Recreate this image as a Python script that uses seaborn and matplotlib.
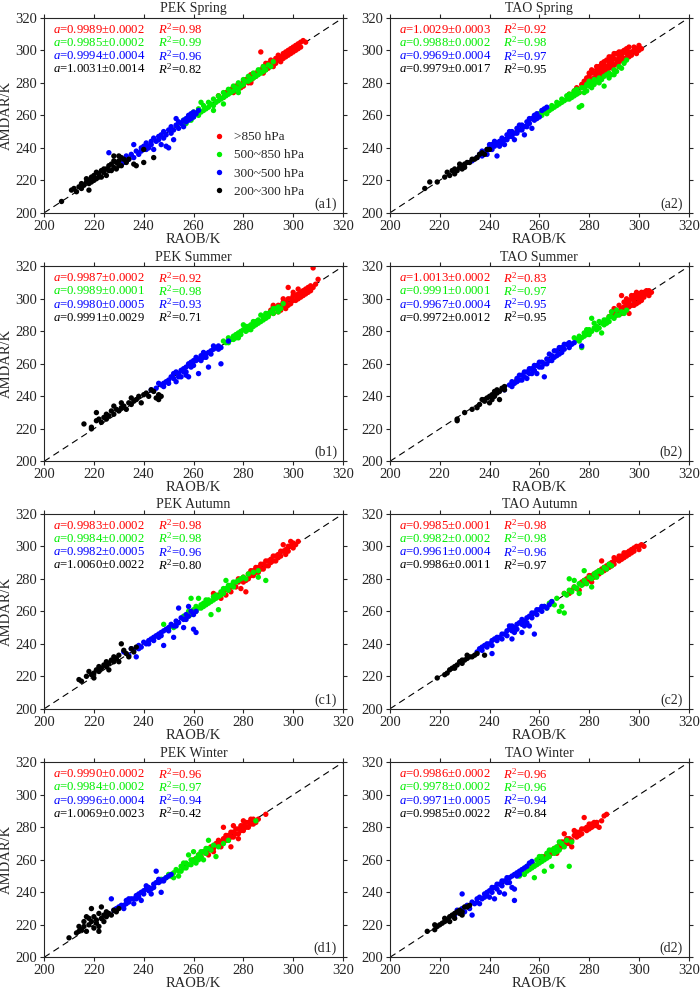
import numpy as np
import pandas as pd
import seaborn as sns
import matplotlib.pyplot as plt

levels = ['>850 hPa', '500~850 hPa', '300~500 hPa', '200~300 hPa']
level_colors = ['#ff0000', '#00ee00', '#0000ff', '#000000']

panel_titles = ['PEK Spring', 'TAO Spring', 'PEK Summer', 'TAO Summer',
                'PEK Autumn', 'TAO Autumn', 'PEK Winter', 'TAO Winter']
panel_tags = ['(a1)', '(a2)', '(b1)', '(b2)', '(c1)', '(c2)', '(d1)', '(d2)']

# fitted slope a and R^2 per level (red, green, blue, black)
a1_slope = ['0.9989±0.0002', '0.9985±0.0002', '0.9994±0.0004', '1.0031±0.0014']
a1_r2 = ['0.98', '0.99', '0.96', '0.82']
a2_slope = ['1.0029±0.0003', '0.9988±0.0002', '0.9969±0.0004', '0.9979±0.0017']
a2_r2 = ['0.92', '0.98', '0.97', '0.95']
b1_slope = ['0.9987±0.0002', '0.9989±0.0001', '0.9980±0.0005', '0.9991±0.0029']
b1_r2 = ['0.92', '0.98', '0.93', '0.71']
b2_slope = ['1.0013±0.0002', '0.9991±0.0001', '0.9967±0.0004', '0.9972±0.0012']
b2_r2 = ['0.83', '0.97', '0.95', '0.95']
c1_slope = ['0.9983±0.0002', '0.9984±0.0002', '0.9982±0.0005', '1.0060±0.0022']
c1_r2 = ['0.98', '0.98', '0.96', '0.80']
c2_slope = ['0.9985±0.0001', '0.9982±0.0002', '0.9961±0.0004', '0.9986±0.0011']
c2_r2 = ['0.98', '0.98', '0.96', '0.97']
d1_slope = ['0.9990±0.0002', '0.9984±0.0002', '0.9996±0.0004', '1.0069±0.0023']
d1_r2 = ['0.96', '0.97', '0.94', '0.42']
d2_slope = ['0.9986±0.0002', '0.9978±0.0002', '0.9971±0.0005', '0.9985±0.0022']
d2_r2 = ['0.96', '0.96', '0.94', '0.84']

# (RAOB, AMDAR) points, per pressure level
# ---- PEK Spring (a1)
a1_red = [(270, 272), (272, 271), (273, 274), (275, 276), (276, 274), (277, 278), (278, 279), (279, 277), (280, 281),
          (280, 278), (281, 282), (282, 280), (283, 285), (283, 281), (284, 283), (285, 286), (285, 284), (286, 287),
          (287, 299), (287, 288), (288, 286), (288, 290), (289, 288), (290, 292), (290, 289), (291, 291), (291, 294),
          (292, 290), (292, 293), (293, 295), (293, 292), (294, 294), (294, 297), (295, 296), (295, 293), (296, 298),
          (296, 295), (297, 299), (297, 296), (298, 300), (298, 297), (299, 298), (299, 301), (300, 302), (300, 299),
          (301, 300), (301, 303), (302, 304), (302, 301), (303, 305), (303, 302), (304, 306), (305, 305), (283, 280),
          (289, 292)]
a1_green = [(255, 255), (256, 257), (257, 255), (258, 259), (259, 257), (260, 262), (260, 259), (261, 261), (262, 264),
            (262, 260), (263, 262), (264, 266), (264, 263), (265, 264), (266, 268), (266, 265), (267, 267), (268, 270),
            (268, 266), (269, 268), (270, 272), (270, 269), (271, 270), (272, 274), (272, 271), (273, 272), (274, 276),
            (274, 273), (275, 274), (276, 278), (276, 275), (277, 277), (278, 280), (278, 276), (279, 278), (280, 282),
            (280, 279), (281, 281), (282, 284), (282, 281), (283, 282), (284, 286), (284, 283), (285, 284), (286, 288),
            (286, 285), (287, 286), (288, 290), (288, 287), (289, 288), (290, 291), (291, 290), (292, 293), (268, 263),
            (272, 267), (278, 274), (263, 268)]
a1_blue = [(231, 233), (232, 231), (233, 235), (234, 233), (235, 236), (236, 242), (236, 234), (237, 238), (238, 236),
           (239, 240), (239, 238), (240, 241), (241, 239), (241, 243), (242, 241), (243, 244), (243, 242), (244, 246),
           (244, 239), (245, 244), (246, 247), (246, 245), (247, 248), (247, 242), (248, 246), (248, 250), (249, 248),
           (249, 241), (250, 251), (250, 240), (251, 249), (251, 253), (252, 251), (252, 245), (253, 254), (253, 258),
           (254, 252), (254, 256), (255, 255), (256, 257), (256, 253), (257, 258), (257, 256), (258, 260), (258, 257),
           (259, 261), (259, 258), (260, 262), (260, 259), (261, 261), (262, 263), (226, 237), (242, 240)]
a1_black = [(207, 207), (211, 214), (212, 215), (213, 213), (214, 216), (215, 218), (215, 215), (216, 217), (217, 219),
            (217, 221), (218, 220), (218, 218), (219, 222), (219, 219), (220, 223), (220, 220), (221, 221), (221, 225),
            (222, 224), (222, 222), (223, 222), (223, 226), (224, 225), (224, 227), (225, 227), (225, 223), (226, 229),
            (226, 226), (227, 226), (227, 230), (228, 228), (228, 232), (229, 231), (229, 227), (230, 232), (230, 229),
            (231, 234), (231, 229), (232, 233), (233, 231), (234, 233), (236, 230), (237, 229), (240, 239), (244, 234),
            (240, 231), (228, 235), (230, 235), (218, 214)]

# ---- TAO Spring (a2)
a2_red = [(272, 273), (274, 275), (275, 277), (276, 274), (277, 279), (278, 281), (278, 277), (279, 283), (279, 279),
          (280, 284), (280, 281), (281, 282), (281, 286), (282, 286), (282, 283), (283, 285), (283, 288), (284, 287),
          (284, 284), (285, 289), (285, 286), (286, 288), (286, 291), (287, 290), (287, 287), (288, 292), (288, 289),
          (289, 293), (289, 290), (290, 291), (290, 295), (291, 294), (291, 292), (292, 296), (292, 293), (293, 297),
          (293, 294), (294, 295), (294, 299), (295, 298), (295, 295), (296, 296), (296, 299), (297, 299), (297, 297),
          (298, 300), (299, 301), (299, 298), (300, 303), (300, 300), (301, 301), (285, 284), (282, 280), (291, 298),
          (294, 300), (288, 296), (281, 288), (283, 290), (285, 292), (287, 294), (289, 296), (290, 298), (292, 299),
          (284, 290), (286, 293), (288, 294), (280, 286), (293, 299), (295, 301), (296, 302), (298, 302), (286, 285),
          (290, 288), (292, 290), (294, 293)]
a2_green = [(260, 261), (261, 260), (262, 262), (263, 264), (263, 261), (264, 263), (265, 266), (265, 264), (266, 265),
            (267, 268), (267, 266), (268, 267), (269, 270), (269, 268), (270, 269), (271, 272), (271, 270), (272, 270),
            (272, 273), (273, 273), (273, 271), (274, 272), (274, 275), (275, 276), (275, 273), (276, 274), (276, 265),
            (277, 266), (277, 277), (278, 277), (278, 274), (279, 275), (279, 279), (280, 278), (280, 281), (281, 280),
            (281, 277), (282, 279), (282, 282), (283, 281), (284, 283), (284, 280), (285, 282), (286, 284), (286, 278),
            (287, 285), (288, 286), (288, 283), (289, 285), (290, 288), (290, 285), (291, 287), (292, 290), (293, 289),
            (294, 292), (295, 294)]
a2_blue = [(233, 232), (235, 234), (236, 236), (237, 238), (237, 235), (238, 237), (239, 239), (239, 236), (240, 240),
           (240, 242), (241, 242), (241, 239), (242, 241), (242, 244), (243, 243), (243, 235), (244, 244), (244, 241),
           (245, 246), (245, 243), (246, 245), (246, 242), (247, 248), (247, 245), (248, 247), (248, 250), (249, 250),
           (249, 247), (250, 249), (250, 245), (251, 252), (251, 249), (252, 251), (252, 254), (253, 254), (253, 251),
           (254, 253), (254, 248), (255, 256), (255, 253), (256, 255), (256, 258), (257, 258), (257, 252), (258, 257),
           (258, 260), (259, 261), (259, 258), (260, 259), (261, 263), (262, 264), (263, 265)]
a2_black = [(214, 215), (216, 219), (219, 219), (222, 222), (223, 225), (224, 223), (225, 226), (226, 227), (226, 224),
            (227, 226), (228, 228), (229, 229), (229, 227), (230, 230), (231, 231), (232, 231), (233, 233), (234, 233),
            (235, 234), (236, 236), (237, 237), (238, 236), (239, 239), (240, 239), (228, 230), (230, 228)]

# ---- PEK Summer (b1)
b1_red = [(290, 290), (291, 293), (292, 291), (292, 295), (293, 294), (294, 292), (294, 296), (295, 296), (295, 293),
          (296, 295), (296, 298), (297, 298), (297, 295), (298, 296), (298, 307), (298, 300), (299, 300), (299, 297),
          (300, 299), (300, 302), (301, 302), (301, 299), (302, 303), (302, 300), (303, 304), (303, 301), (304, 305),
          (304, 302), (305, 306), (305, 303), (306, 307), (306, 304), (307, 308), (307, 305), (308, 307), (308, 319),
          (309, 309), (310, 312), (300, 304), (302, 306), (297, 294), (292, 296), (296, 300)]
b1_green = [(272, 274), (273, 273), (274, 276), (274, 273), (275, 275), (276, 277), (276, 275), (277, 278), (277, 276),
            (278, 279), (278, 276), (279, 280), (279, 278), (280, 281), (280, 284), (281, 280), (281, 283), (282, 283),
            (282, 281), (283, 284), (283, 281), (284, 283), (284, 286), (285, 286), (285, 284), (286, 287), (286, 285),
            (287, 286), (287, 290), (288, 289), (288, 287), (289, 288), (289, 291), (290, 291), (290, 289), (291, 292),
            (292, 291), (292, 294), (293, 294), (294, 295), (294, 292), (295, 294), (296, 297)]
b1_blue = [(243, 244), (245, 245), (246, 248), (247, 247), (248, 248), (248, 246), (249, 249), (250, 250), (250, 248),
           (251, 252), (252, 251), (252, 254), (253, 255), (253, 249), (254, 254), (254, 252), (255, 256), (255, 252),
           (256, 257), (256, 255), (257, 258), (257, 255), (257, 253), (258, 260), (258, 252), (259, 261), (259, 258),
           (260, 262), (260, 259), (261, 262), (261, 264), (262, 263), (262, 254), (263, 265), (263, 262), (264, 264),
           (264, 267), (265, 266), (265, 264), (266, 267), (266, 258), (267, 268), (267, 266), (268, 269), (268, 271),
           (269, 270), (270, 271), (270, 269), (271, 270), (271, 260), (274, 274)]
b1_black = [(216, 223), (219, 220), (219, 221), (221, 225), (221, 230), (222, 226), (223, 224), (224, 227), (225, 226),
            (225, 229), (226, 228), (227, 231), (228, 229), (228, 234), (229, 232), (230, 231), (231, 233), (231, 236),
            (232, 234), (233, 232), (234, 236), (235, 235), (235, 239), (236, 237), (237, 238), (238, 240), (239, 236),
            (240, 241), (241, 242), (242, 240), (243, 244), (245, 239), (246, 241), (246, 238), (247, 240), (244, 243)]

# ---- TAO Summer (b2)
b2_red = [(288, 289), (289, 292), (290, 291), (290, 294), (291, 293), (291, 290), (292, 292), (292, 296), (293, 294),
          (293, 291), (293, 302), (294, 295), (294, 298), (295, 297), (295, 293), (296, 298), (296, 295), (296, 291),
          (297, 296), (297, 300), (298, 299), (298, 302), (298, 296), (299, 301), (299, 297), (300, 300), (300, 303),
          (301, 302), (301, 299), (301, 304), (302, 304), (302, 301), (303, 303), (303, 305), (304, 305), (304, 302),
          (305, 304), (297, 302), (299, 304), (295, 300), (300, 298)]
b2_green = [(274, 276), (275, 275), (276, 277), (276, 274), (277, 276), (277, 270), (278, 279), (278, 277), (279, 278),
            (279, 281), (280, 281), (280, 278), (281, 280), (281, 288), (282, 282), (282, 285), (283, 283), (283, 281),
            (284, 282), (284, 286), (285, 285), (285, 279), (286, 284), (286, 287), (287, 287), (287, 285), (288, 286),
            (288, 289), (289, 289), (289, 292), (290, 288), (291, 290), (291, 293), (292, 290), (293, 292), (294, 291),
            (295, 293)]
b2_blue = [(246, 244), (248, 247), (249, 249), (249, 246), (250, 248), (251, 251), (251, 249), (252, 250), (252, 253),
           (253, 253), (253, 250), (254, 252), (254, 255), (255, 255), (255, 251), (256, 254), (256, 257), (257, 257),
           (257, 254), (258, 256), (258, 259), (259, 259), (259, 254), (260, 258), (260, 261), (261, 261), (261, 258),
           (262, 260), (262, 252), (263, 263), (263, 260), (264, 262), (264, 266), (265, 265), (265, 262), (266, 264),
           (266, 268), (267, 268), (267, 265), (268, 266), (268, 270), (269, 270), (269, 267), (270, 269), (270, 272),
           (271, 272), (272, 270), (272, 273), (273, 272), (274, 273), (277, 271)]
b2_black = [(227, 225), (227, 226), (230, 230), (233, 232), (235, 233), (236, 235), (237, 238), (238, 237), (239, 239),
            (240, 240), (241, 241), (241, 238), (242, 240), (243, 242), (243, 244), (244, 243), (245, 245), (246, 246),
            (246, 244), (240, 236), (244, 238), (238, 238), (242, 243)]

# ---- PEK Autumn (c1)
c1_red = [(268, 271), (270, 270), (271, 268), (272, 272), (273, 270), (274, 273), (275, 275), (275, 272), (276, 277),
          (277, 275), (278, 278), (278, 280), (279, 274), (279, 279), (280, 281), (280, 278), (281, 279), (281, 272),
          (282, 283), (282, 280), (283, 282), (283, 285), (284, 285), (284, 282), (285, 284), (285, 287), (286, 287),
          (286, 284), (287, 286), (287, 289), (288, 289), (288, 286), (289, 288), (289, 291), (290, 291), (290, 288),
          (291, 292), (291, 290), (292, 291), (292, 294), (293, 294), (293, 291), (294, 295), (294, 293), (295, 294),
          (295, 297), (296, 297), (296, 301), (297, 298), (297, 295), (298, 297), (298, 300), (299, 300), (299, 303),
          (300, 299), (300, 302), (301, 301), (302, 303)]
c1_green = [(248, 252), (252, 250), (256, 257), (258, 260), (258, 257), (259, 258), (259, 268), (260, 261), (260, 259),
            (261, 263), (261, 260), (262, 262), (262, 268), (263, 264), (263, 262), (264, 265), (264, 263), (265, 264),
            (265, 267), (266, 267), (266, 265), (267, 266), (267, 258), (268, 269), (268, 267), (269, 270), (269, 268),
            (270, 269), (270, 261), (271, 272), (271, 270), (272, 271), (272, 274), (273, 274), (273, 279), (274, 273),
            (274, 276), (275, 276), (276, 275), (276, 278), (277, 278), (278, 279), (279, 280), (280, 281), (281, 280),
            (282, 283), (284, 284), (286, 285), (286, 281), (289, 279)]
c1_blue = [(232, 235), (234, 233), (235, 237), (236, 236), (237, 232), (238, 239), (239, 238), (240, 241), (241, 240),
           (242, 242), (243, 243), (244, 244), (245, 245), (246, 246), (247, 247), (248, 239), (248, 248), (249, 249),
           (250, 250), (251, 252), (252, 251), (253, 254), (254, 262), (254, 253), (255, 256), (256, 255), (257, 258),
           (258, 257), (259, 260), (260, 258), (261, 260), (261, 247), (260, 249), (256, 250), (252, 244), (258, 263),
           (244, 242), (246, 244), (250, 248), (238, 237), (242, 240), (247, 245), (253, 251), (257, 255)]
c1_black = [(214, 218), (215, 217), (217, 220), (218, 223), (219, 221), (220, 222), (221, 224), (222, 223), (222, 226),
            (223, 225), (224, 227), (225, 226), (225, 229), (226, 228), (227, 230), (228, 229), (228, 232), (229, 231),
            (230, 233), (230, 229), (231, 240), (232, 236), (233, 234), (234, 232), (235, 237), (236, 235), (237, 238),
            (226, 224), (220, 219)]

# ---- TAO Autumn (c2)
c2_red = [(270, 271), (272, 271), (273, 273), (274, 275), (275, 274), (276, 273), (277, 278), (278, 277), (278, 279),
          (279, 280), (280, 279), (280, 282), (281, 282), (281, 278), (282, 281), (282, 283), (283, 284), (284, 283),
          (284, 285), (285, 286), (285, 291), (286, 285), (286, 287), (287, 288), (287, 286), (288, 287), (288, 289),
          (289, 290), (289, 288), (290, 289), (290, 293), (290, 291), (291, 292), (292, 291), (292, 294), (293, 294),
          (293, 292), (294, 293), (294, 296), (295, 296), (295, 294), (296, 295), (296, 297), (297, 298), (297, 296),
          (298, 297), (298, 299), (299, 300), (300, 300), (300, 298), (301, 301), (302, 300)]
c2_green = [(262, 263), (263, 262), (264, 265), (265, 266), (266, 264), (267, 268), (268, 260), (269, 263), (270, 259),
            (270, 271), (271, 270), (272, 273), (272, 280), (273, 272), (274, 275), (275, 274), (276, 277), (277, 276),
            (278, 285), (278, 279), (279, 277), (280, 281), (281, 280), (282, 283), (283, 281), (284, 285), (285, 284),
            (286, 287), (287, 286), (288, 289), (289, 288), (276, 271), (281, 275), (274, 279), (283, 284)]
c2_blue = [(235, 235), (236, 237), (237, 236), (238, 239), (239, 238), (240, 240), (241, 239), (242, 243), (243, 242),
           (244, 244), (245, 243), (246, 246), (247, 245), (248, 249), (249, 248), (250, 250), (251, 249), (252, 253),
           (253, 252), (254, 254), (255, 253), (256, 257), (257, 256), (258, 246), (258, 259), (259, 258), (260, 261),
           (261, 260), (262, 263), (263, 262), (264, 264), (265, 266), (253, 247), (249, 243), (256, 251), (241, 234),
           (248, 251), (237, 238), (239, 240), (241, 242), (243, 244), (245, 246), (247, 248), (249, 251), (251, 252),
           (253, 255), (255, 256), (257, 259), (259, 261), (261, 263), (254, 251), (250, 247)]
c2_black = [(219, 219), (222, 221), (224, 224), (225, 225), (226, 226), (227, 227), (228, 229), (229, 228), (230, 230),
            (231, 231), (231, 233), (232, 232), (233, 232), (234, 233), (235, 234), (238, 233), (226, 225), (223, 222),
            (229, 230)]

# ---- PEK Winter (d1)
d1_red = [(260, 260), (262, 263), (263, 262), (264, 265), (265, 264), (266, 266), (266, 263), (267, 268), (268, 267),
          (268, 265), (269, 270), (270, 269), (270, 272), (271, 271), (271, 268), (272, 273), (272, 280), (273, 272),
          (273, 275), (274, 275), (274, 272), (275, 274), (275, 268), (275, 277), (276, 277), (276, 274), (276, 281),
          (277, 276), (277, 279), (278, 279), (278, 273), (278, 276), (279, 278), (279, 281), (280, 281), (280, 284),
          (280, 278), (281, 280), (281, 283), (282, 283), (282, 280), (283, 282), (283, 285), (284, 285), (284, 282),
          (285, 283), (286, 285), (289, 288)]
d1_green = [(247, 248), (249, 249), (250, 251), (251, 250), (252, 252), (252, 249), (253, 254), (254, 253), (254, 250),
            (255, 256), (255, 253), (256, 255), (256, 258), (257, 258), (257, 255), (258, 257), (258, 263), (259, 260),
            (259, 257), (260, 259), (260, 265), (261, 261), (261, 258), (262, 263), (262, 260), (263, 262), (263, 265),
            (264, 265), (264, 260), (265, 264), (265, 267), (266, 267), (266, 272), (267, 266), (268, 269), (269, 262),
            (270, 268), (272, 270), (274, 272), (285, 284)]
d1_blue = [(225, 227), (227, 236), (228, 229), (229, 230), (230, 231), (231, 232), (232, 232), (233, 233), (233, 235),
           (234, 234), (235, 236), (236, 236), (237, 238), (238, 237), (239, 240), (240, 239), (241, 242), (242, 243),
           (243, 242), (244, 245), (245, 246), (246, 246), (247, 247), (248, 248), (249, 249), (250, 250), (245, 253),
           (247, 240), (243, 239), (239, 235), (236, 233), (251, 251), (232, 230), (234, 236), (238, 239), (240, 241),
           (242, 241), (244, 243), (246, 248), (248, 247), (241, 244), (237, 236)]
d1_black = [(210, 212), (213, 215), (214, 219), (214, 216), (215, 217), (216, 219), (216, 222), (217, 216), (218, 220),
            (218, 224), (219, 222), (220, 218), (220, 225), (221, 221), (221, 223), (222, 219), (222, 227), (223, 224),
            (223, 231), (224, 222), (224, 226), (225, 228), (225, 225), (226, 227), (227, 226), (228, 229), (229, 228),
            (230, 230), (222, 216), (219, 230), (217, 225)]

# ---- TAO Winter (d2)
d2_red = [(262, 262), (264, 265), (265, 264), (266, 267), (267, 266), (267, 264), (268, 269), (268, 267), (269, 268),
          (269, 271), (270, 271), (270, 276), (271, 270), (271, 273), (272, 273), (272, 270), (273, 272), (273, 268),
          (274, 275), (274, 278), (275, 274), (275, 277), (276, 277), (276, 275), (277, 276), (277, 279), (278, 279),
          (278, 286), (279, 280), (279, 278), (280, 279), (280, 282), (281, 282), (281, 280), (282, 281), (282, 283),
          (283, 283), (283, 281), (284, 280), (285, 284), (286, 287), (287, 288)]
d2_green = [(252, 250), (253, 253), (254, 251), (255, 256), (255, 253), (256, 254), (257, 258), (257, 255), (258, 249),
            (258, 256), (259, 260), (259, 257), (260, 258), (260, 262), (261, 262), (261, 259), (262, 260), (262, 253),
            (263, 264), (263, 261), (264, 262), (264, 266), (265, 266), (265, 256), (266, 264), (266, 267), (267, 268),
            (267, 265), (268, 266), (268, 271), (269, 270), (270, 268), (271, 272), (272, 256), (273, 271)]
d2_blue = [(226, 226), (227, 229), (229, 230), (229, 239), (230, 228), (231, 232), (232, 230), (233, 234), (233, 226),
           (234, 233), (235, 236), (235, 234), (236, 237), (236, 233), (237, 236), (238, 239), (238, 237), (239, 240),
           (239, 238), (240, 241), (240, 237), (241, 240), (241, 243), (242, 243), (242, 236), (243, 242), (243, 245),
           (244, 245), (244, 240), (245, 244), (245, 247), (246, 247), (246, 239), (247, 246), (247, 249), (248, 249),
           (248, 246), (249, 243), (249, 250), (250, 235), (250, 242), (250, 251), (251, 252), (251, 250), (252, 253),
           (252, 251), (253, 254), (254, 255), (255, 256), (256, 258), (257, 259)]
d2_black = [(215, 216), (218, 217), (218, 220), (219, 219), (220, 220), (221, 221), (222, 222), (222, 224), (223, 223),
            (224, 225), (224, 222), (225, 226), (226, 227), (227, 228), (228, 227), (228, 229), (229, 228), (230, 231),
            (231, 231), (232, 232), (226, 224), (229, 226)]

panel_points = [
    [a1_red, a1_green, a1_blue, a1_black], [a2_red, a2_green, a2_blue, a2_black],
    [b1_red, b1_green, b1_blue, b1_black], [b2_red, b2_green, b2_blue, b2_black],
    [c1_red, c1_green, c1_blue, c1_black], [c2_red, c2_green, c2_blue, c2_black],
    [d1_red, d1_green, d1_blue, d1_black], [d2_red, d2_green, d2_blue, d2_black],
]
panel_stats = [(a1_slope, a1_r2), (a2_slope, a2_r2), (b1_slope, b1_r2), (b2_slope, b2_r2),
               (c1_slope, c1_r2), (c2_slope, c2_r2), (d1_slope, d1_r2), (d2_slope, d2_r2)]

sns.set_style('ticks')
plt.rcParams['font.family'] = ['Liberation Serif', 'DejaVu Serif']
plt.rcParams['mathtext.fontset'] = 'custom'
plt.rcParams['mathtext.rm'] = 'Liberation Serif'
plt.rcParams['mathtext.it'] = 'Liberation Serif:italic'

fig = plt.figure(figsize=(7, 9.9), dpi=100)
col_left = [0.063, 0.557]
row_bottom = [0.785, 0.534, 0.284, 0.033]
ax_w, ax_h = 0.427, 0.197

for i, groups in enumerate(panel_points):
    row, col = divmod(i, 2)
    slopes, r2s = panel_stats[i]
    ax = fig.add_axes([col_left[col], row_bottom[row], ax_w, ax_h])
    frames = []
    for lev, pts in zip(levels, groups):
        x, y = zip(*pts)
        frames.append(pd.DataFrame({'RAOB': x, 'AMDAR': y, 'level': lev}))
    df = pd.concat(frames, ignore_index=True)

    ax.plot([200, 320], [200, 320], ls=(0, (6, 4)), color='black', lw=0.8, zorder=1)
    sns.scatterplot(data=df, x='RAOB', y='AMDAR', hue='level', palette=level_colors,
                    hue_order=levels, s=15, linewidth=0, ax=ax, legend=(i == 0), zorder=2)

    ax.set_xlim(200, 320)
    ax.set_ylim(200, 320)
    ax.set_xticks(np.arange(200, 321, 20))
    ax.set_yticks(np.arange(200, 321, 20))
    ax.tick_params(direction='out', length=3, width=0.8, top=True, right=True, labelsize=10.5, pad=2)
    for sp in ax.spines.values():
        sp.set_linewidth(0.8)
    ax.set_title(panel_titles[i], fontsize=10, pad=4)
    ax.set_xlabel('RAOB/K', fontsize=10.5, labelpad=0)
    if col == 0:
        ax.set_ylabel('AMDAR/K', fontsize=10.5, labelpad=2)
    else:
        ax.set_ylabel('')

    for k in range(4):
        yy = 0.94 - k * 0.068
        ax.text(0.03, yy, '$a$=' + slopes[k], color=level_colors[k], fontsize=9.2,
                transform=ax.transAxes, va='center', ha='left')
        ax.text(0.38, yy, '$R^2$=' + r2s[k], color=level_colors[k], fontsize=9.2,
                transform=ax.transAxes, va='center', ha='left')
    ax.text(0.98, 0.045, panel_tags[i], fontsize=10, transform=ax.transAxes, ha='right', va='center')

    if i == 0:
        ax.legend(loc='lower right', bbox_to_anchor=(0.9, 0.03), frameon=False, fontsize=9.5,
                  handletextpad=0.1, labelspacing=0.45, borderpad=0.2, markerscale=1.0, title=None)

plt.savefig('out.png', dpi=100)
